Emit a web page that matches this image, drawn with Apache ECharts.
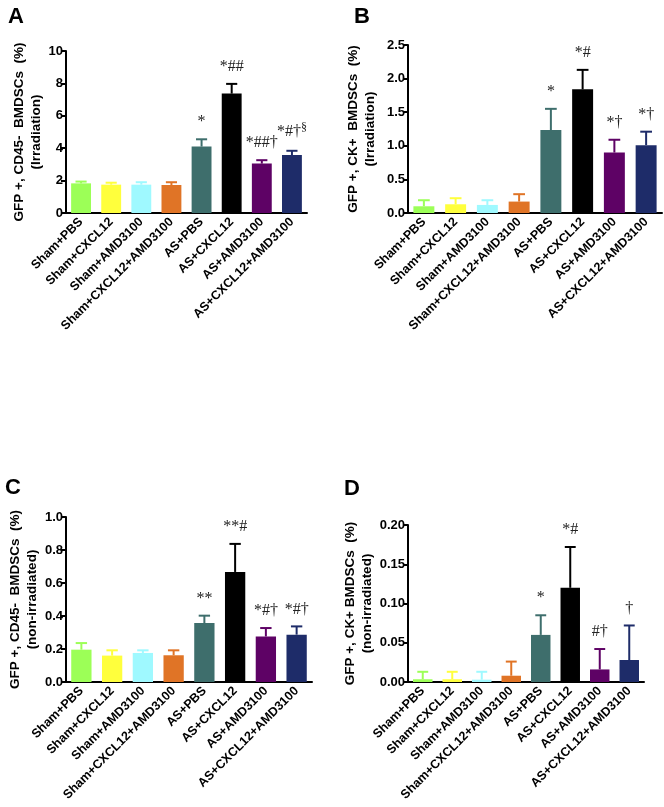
<!DOCTYPE html>
<html>
<head>
<meta charset="utf-8">
<script src="https://cdn.jsdelivr.net/npm/echarts@6/dist/echarts.min.js"></script>
<style>html,body{margin:0;padding:0;background:#fff;}#c{width:664px;height:807px;}</style>
</head>
<body>
<div id="c"></div>
<script>
const categories = ['Sham+PBS','Sham+CXCL12','Sham+AMD3100','Sham+CXCL12+AMD3100','AS+PBS','AS+CXCL12','AS+AMD3100','AS+CXCL12+AMD3100'];
const barColors = ['#9CFF57','#FFFF3C','#9FF9FF','#E07426','#3E6E6C','#000000','#5E0265','#1E2C69'];

// Panel A: GFP+, CD45- BMDSCs (%) (Irradiation)
const meanA = [1.83, 1.75, 1.75, 1.73, 4.1, 7.37, 3.05, 3.58];
const semA  = [0.11, 0.12, 0.15, 0.17, 0.45, 0.6, 0.21, 0.26];
const annA  = ['', '', '', '', '*', '*##', '*##†', '*#†{s|§}'];

// Panel B: GFP+, CK+ BMDSCs (%) (Irradiation)
const meanB = [0.10, 0.13, 0.12, 0.17, 1.235, 1.84, 0.9, 1.01];
const semB  = [0.09, 0.09, 0.07, 0.11, 0.315, 0.29, 0.19, 0.2];
const annB  = ['', '', '', '', '*', '*#', '*†', '*†'];

// Panel C: GFP+, CD45- BMDSCs (%) (non-irradiated)
const meanC = [0.196, 0.16, 0.176, 0.162, 0.357, 0.667, 0.276, 0.287];
const semC  = [0.04, 0.032, 0.016, 0.03, 0.045, 0.17, 0.051, 0.05];
const annC  = ['', '', '', '', '**', '**#', '*#†', '*#†'];

// Panel D: GFP+, CK+ BMDSCs (%) (non-irradiated)
const meanD = [0.0035, 0.0035, 0.003, 0.008, 0.06, 0.12, 0.016, 0.028];
const semD  = [0.0095, 0.0095, 0.01, 0.018, 0.025, 0.052, 0.026, 0.044];
const annD  = ['', '', '', '', '*', '*#', '#†', '†'];

const yMax = [10, 2.5, 1.0, 0.2];
const yInterval = [2, 0.5, 0.2, 0.05];
const yDecimals = [0, 1, 1, 2];
const yTitles = [
  'GFP +, CD45-  BMDSCs  (%)\n(Irradiation)',
  'GFP +, CK+  BMDSCs  (%)\n(Irradiation)',
  'GFP +, CD45-  BMDSCs  (%)\n(non-irradiated)',
  'GFP +, CK+ BMDSCs  (%)\n(non-irradiated)'
];
const panelLetters = ['A','B','C','D'];

const grids = [
  {left: 66, top: 51, width: 241, height: 162},
  {left: 408, top: 45, width: 254, height: 168},
  {left: 66, top: 517, width: 246, height: 165},
  {left: 408, top: 525, width: 236, height: 157}
];
const nameGaps = [20, 29, 24, 31];
const letterPos = [[8, 6], [354, 6], [5, 477], [344, 478]];

const FONT = 'Liberation Sans, Arial, sans-serif';
const panels = [[meanA, semA, annA],[meanB, semB, annB],[meanC, semC, annC],[meanD, semD, annD]];

const xAxes = [], yAxes = [], series = [], graphics = [];
panels.forEach((p, k) => {
  xAxes.push({
    type: 'category', gridIndex: k, data: categories,
    axisLine: {lineStyle: {color: '#000', width: 2}},
    axisTick: {alignWithLabel: true, length: 5, lineStyle: {color: '#000', width: 2}},
    axisLabel: {rotate: 45, interval: 0, fontFamily: FONT, fontWeight: 'bold', fontSize: 12.5, color: '#000', margin: 7}
  });
  yAxes.push({
    type: 'value', gridIndex: k, min: 0, max: yMax[k], interval: yInterval[k],
    axisLine: {show: true, lineStyle: {color: '#000', width: 2}},
    axisTick: {show: true, length: 5, lineStyle: {color: '#000', width: 2}},
    splitLine: {show: false},
    axisLabel: {fontFamily: FONT, fontWeight: 'bold', fontSize: 13, color: '#000', margin: 3,
      formatter: v => v.toFixed(yDecimals[k])},
    name: yTitles[k], nameLocation: 'middle', nameRotate: 90, nameGap: nameGaps[k],
    nameTextStyle: {fontFamily: FONT, fontWeight: 'bold', fontSize: 13.5, color: '#000', lineHeight: 17}
  });
  const [mean, sem, ann] = p;
  series.push({
    type: 'bar', xAxisIndex: k, yAxisIndex: k, barWidth: '66%',
    data: mean.map((v, i) => ({value: v, itemStyle: {color: barColors[i]}})),
    z: 2
  });
  series.push({
    type: 'custom', xAxisIndex: k, yAxisIndex: k, z: 3,
    data: mean.map((v, i) => [i, v, v + sem[i]]),
    encode: {x: 0, y: [1, 2]},
    renderItem: (params, api) => {
      const i = api.value(0);
      const p0 = api.coord([i, api.value(1)]);
      const p1 = api.coord([i, api.value(2)]);
      const bw = api.size([1, 0])[0] * 0.66;
      const cap = bw * 0.28;
      const col = barColors[i];
      const children = [
        {type: 'line', shape: {x1: p0[0], y1: p0[1], x2: p1[0], y2: p1[1]}, style: {stroke: col, lineWidth: 2}},
        {type: 'line', shape: {x1: p1[0] - cap, y1: p1[1], x2: p1[0] + cap, y2: p1[1]}, style: {stroke: col, lineWidth: 2}}
      ];
      if (ann[i]) {
        children.push({type: 'text', style: {
          text: ann[i], x: p1[0], y: p1[1] - 9, align: 'center', verticalAlign: 'bottom',
          fontFamily: 'Liberation Serif, Times New Roman, serif', fontSize: 16, fill: '#222',
          rich: {s: {fontFamily: 'Liberation Serif, serif', fontSize: 12, fill: '#222', padding: [0, 0, 8, 0]}}
        }});
      }
      return {type: 'group', children};
    }
  });
  graphics.push({type: 'text', left: letterPos[k][0], top: letterPos[k][1],
    style: {text: panelLetters[k], fontFamily: FONT, fontWeight: 'bold', fontSize: 22, fill: '#000'}});
});

const chart = echarts.init(document.getElementById('c'), null, {renderer: 'canvas'});
chart.setOption({
  animation: false,
  backgroundColor: '#fff',
  grid: grids,
  xAxis: xAxes,
  yAxis: yAxes,
  series: series,
  graphic: graphics
});
</script>
</body>
</html>
